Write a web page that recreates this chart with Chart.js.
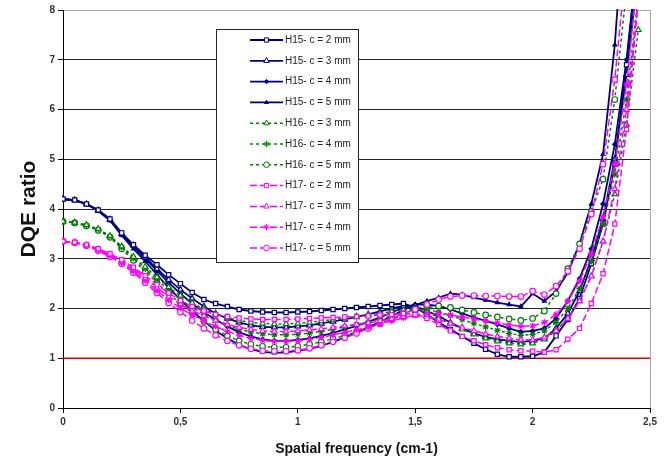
<!DOCTYPE html>
<html>
<head>
<meta charset="utf-8">
<script src="https://cdn.jsdelivr.net/npm/chart.js"></script>
<style>
  html, body { margin: 0; padding: 0; background: #fff; }
  #wrap { width: 664px; height: 464px; }
</style>
</head>
<body>
<div id="wrap"><canvas id="chart" width="664" height="464"></canvas></div>
<script>
// spatial frequency samples (cm-1)
const freq = [0, 0.05, 0.1, 0.15, 0.2, 0.25, 0.3, 0.35, 0.4, 0.45,
  0.5, 0.55, 0.6, 0.65, 0.7, 0.75, 0.8, 0.85, 0.9, 0.95,
  1, 1.05, 1.1, 1.15, 1.2, 1.25, 1.3, 1.35, 1.4, 1.45,
  1.5, 1.55, 1.6, 1.65, 1.7, 1.75, 1.8, 1.85, 1.9, 1.95,
  2, 2.05, 2.1, 2.15, 2.2, 2.25, 2.3, 2.35, 2.4, 2.45];

const xTicks = [0, 0.5, 1, 1.5, 2, 2.5];
const xTickLabels = ['0', '0,5', '1', '1,5', '2', '2,5'];

// DQE ratio per series
const h15c2 = [4.2, 4.18, 4.1, 3.98, 3.8, 3.52, 3.28, 3.07, 2.88, 2.68,
  2.5, 2.32, 2.18, 2.1, 2.04, 1.98, 1.95, 1.93, 1.92, 1.92,
  1.93, 1.94, 1.96, 1.98, 2.0, 2.02, 2.04, 2.06, 2.08, 2.1,
  2.02, 1.88, 1.72, 1.58, 1.44, 1.3, 1.18, 1.08, 1.03, 1.03,
  1.04, 1.12, 1.45, 1.78, 2.2, 2.9, 3.7, 4.9, 6.9, 9.2];
const h15c3 = [4.2, 4.18, 4.1, 3.97, 3.79, 3.5, 3.27, 3.03, 2.8, 2.58,
  2.38, 2.2, 2.04, 1.9, 1.8, 1.72, 1.66, 1.63, 1.62, 1.62,
  1.64, 1.66, 1.7, 1.74, 1.78, 1.83, 1.88, 1.94, 2.0, 2.05,
  2.05, 1.95, 1.85, 1.72, 1.6, 1.5, 1.43, 1.38, 1.35, 1.33,
  1.35, 1.4, 1.6, 1.9, 2.35, 3.0, 3.8, 5.0, 6.7, 8.8];
const h15c4 = [4.2, 4.18, 4.1, 3.97, 3.78, 3.49, 3.25, 3.0, 2.76, 2.52,
  2.3, 2.1, 1.92, 1.78, 1.64, 1.52, 1.44, 1.38, 1.35, 1.35,
  1.37, 1.4, 1.45, 1.51, 1.58, 1.65, 1.73, 1.82, 1.92, 2.02,
  2.08, 2.08, 2.05, 1.98, 1.9, 1.82, 1.75, 1.68, 1.6, 1.53,
  1.55, 1.6, 1.8, 2.15, 2.6, 3.2, 4.1, 5.3, 7.0, 9.2];
const h15c5 = [4.2, 4.18, 4.1, 3.96, 3.77, 3.47, 3.2, 2.95, 2.68, 2.42,
  2.18, 1.95, 1.75, 1.55, 1.4, 1.27, 1.18, 1.13, 1.11, 1.12,
  1.15, 1.19, 1.25, 1.33, 1.42, 1.52, 1.62, 1.73, 1.85, 1.97,
  2.07, 2.15, 2.22, 2.3, 2.28, 2.22, 2.17, 2.12, 2.08, 2.04,
  2.3, 2.15, 2.35, 2.72, 3.3, 4.1, 5.1, 7.3, 10.5, 14];
const h16c3 = [3.75, 3.73, 3.68, 3.6, 3.46, 3.25, 3.04, 2.84, 2.63, 2.43,
  2.26, 2.11, 1.99, 1.89, 1.82, 1.76, 1.72, 1.7, 1.69, 1.69,
  1.7, 1.72, 1.75, 1.78, 1.81, 1.84, 1.87, 1.9, 1.94, 1.97,
  1.98, 1.92, 1.82, 1.7, 1.58, 1.48, 1.4, 1.34, 1.3, 1.28,
  1.3, 1.38, 1.55, 1.8, 2.15, 2.65, 3.35, 4.3, 5.7, 7.6];
const h16c4 = [3.75, 3.73, 3.67, 3.59, 3.45, 3.23, 3.01, 2.8, 2.58, 2.37,
  2.18, 2.02, 1.88, 1.76, 1.66, 1.58, 1.53, 1.49, 1.47, 1.47,
  1.48, 1.5, 1.54, 1.58, 1.63, 1.68, 1.73, 1.79, 1.85, 1.92,
  1.98, 1.98, 1.93, 1.86, 1.78, 1.7, 1.63, 1.56, 1.5, 1.46,
  1.48, 1.55, 1.72, 2.0, 2.4, 2.95, 3.7, 4.7, 6.2, 8.3];
const h16c5 = [3.75, 3.72, 3.66, 3.57, 3.43, 3.2, 2.97, 2.75, 2.52, 2.3,
  2.1, 1.91, 1.74, 1.58, 1.45, 1.35, 1.28, 1.24, 1.22, 1.22,
  1.24, 1.28, 1.33, 1.39, 1.46, 1.53, 1.61, 1.69, 1.78, 1.87,
  1.95, 2.02, 2.05, 2.02, 1.97, 1.92, 1.87, 1.83, 1.79, 1.76,
  1.8, 1.95, 2.3, 2.8, 3.3, 3.95, 4.6, 6.2, 8.4, 11];
const h17c2 = [3.35, 3.33, 3.28, 3.2, 3.1, 2.98, 2.83, 2.66, 2.48, 2.31,
  2.16, 2.04, 1.95, 1.88, 1.84, 1.81, 1.79, 1.78, 1.78, 1.78,
  1.79, 1.8, 1.81, 1.82, 1.83, 1.84, 1.85, 1.87, 1.88, 1.9,
  1.88, 1.8, 1.68, 1.55, 1.44, 1.35, 1.27, 1.21, 1.17, 1.15,
  1.14, 1.12, 1.17, 1.38, 1.6, 2.1, 2.7, 3.7, 5.6, 8.2];
const h17c3 = [3.35, 3.33, 3.27, 3.19, 3.08, 2.95, 2.79, 2.61, 2.42, 2.24,
  2.09, 1.96, 1.85, 1.76, 1.68, 1.62, 1.58, 1.55, 1.54, 1.54,
  1.55, 1.57, 1.59, 1.62, 1.65, 1.68, 1.71, 1.75, 1.79, 1.83,
  1.86, 1.84, 1.78, 1.7, 1.62, 1.55, 1.49, 1.44, 1.4, 1.37,
  1.37, 1.42, 1.55, 1.8, 2.15, 2.65, 3.35, 4.4, 6.0, 8.2];
const h17c4 = [3.35, 3.33, 3.27, 3.18, 3.06, 2.92, 2.75, 2.56, 2.36, 2.17,
  2.01, 1.87, 1.75, 1.64, 1.54, 1.46, 1.4, 1.36, 1.34, 1.34,
  1.35, 1.38, 1.42, 1.47, 1.52, 1.57, 1.63, 1.69, 1.75, 1.81,
  1.87, 1.9, 1.9, 1.87, 1.83, 1.79, 1.75, 1.71, 1.67, 1.64,
  1.65, 1.72, 1.88, 2.15, 2.55, 3.1, 3.85, 4.9, 6.5, 8.8];
const h17c5 = [3.35, 3.32, 3.26, 3.16, 3.04, 2.9, 2.72, 2.52, 2.31, 2.11,
  1.93, 1.76, 1.6, 1.46, 1.35, 1.26, 1.19, 1.15, 1.14, 1.14,
  1.16, 1.2, 1.26, 1.33, 1.41, 1.5, 1.6, 1.7, 1.8, 1.9,
  1.98, 2.08, 2.18, 2.24, 2.26, 2.26, 2.25, 2.25, 2.24, 2.24,
  2.35, 2.28, 2.45, 2.75, 3.2, 3.9, 4.9, 6.6, 9.0, 12];

// ratio = 1 reference
const refX = [0, 2.5];
const refY = [1, 1];

const NAVY = '#000080';
const GREEN = '#008000';
const PINK = '#ff00ff';
const FONT = '"Liberation Sans", Arial, sans-serif';
const NARROW = '"Liberation Sans Narrow", "Liberation Sans", Arial, sans-serif';

function series(label, ys, color, width, dash, style, filled, radius, order) {
  return {
    label: label,
    data: freq.map((f, i) => ({ x: f, y: ys[i] })),
    borderColor: color,
    borderWidth: width,
    borderDash: dash,
    pointStyle: style,
    pointRadius: radius,
    pointBorderWidth: 1.2,
    pointBorderColor: color,
    pointBackgroundColor: filled ? color : '#fff',
    tension: 0,
    order: order,
    clip: 1
  };
}

const datasets = [
  series('H15- c = 2 mm', h15c2, NAVY, 1.8, [], 'rect', false, 3, 3),
  series('H15- c = 3 mm', h15c3, NAVY, 1.8, [], 'triangle', false, 3.2, 3),
  series('H15- c = 4 mm', h15c4, NAVY, 1.8, [], 'rectRot', true, 2.2, 3),
  series('H15- c = 5 mm', h15c5, NAVY, 1.8, [], 'triangle', true, 2.2, 3),
  series('H16- c = 3 mm', h16c3, GREEN, 1.5, [3, 3], 'triangle', false, 3.2, 2),
  series('H16- c = 4 mm', h16c4, GREEN, 1.5, [3, 3], 'star', false, 3.2, 2),
  series('H16- c = 5 mm', h16c5, GREEN, 1.5, [3, 3], 'circle', false, 2.8, 2),
  series('H17- c = 2 mm', h17c2, PINK, 1.5, [7, 3], 'rect', false, 3, 1),
  series('H17- c = 3 mm', h17c3, PINK, 1.5, [7, 3], 'triangle', false, 3.2, 1),
  series('H17- c = 4 mm', h17c4, PINK, 1.5, [7, 3], 'star', false, 3.2, 1),
  series('H17- c = 5 mm', h17c5, PINK, 1.5, [7, 3], 'circle', false, 2.8, 1),
  {
    label: 'ref',
    noLegend: true,
    data: refX.map((x, i) => ({ x: x, y: refY[i] })),
    borderColor: '#e00000',
    borderWidth: 1.5,
    pointRadius: 0,
    order: 4
  }
];

// Excel-like boxed legend sitting inside the plot
const boxLegend = {
  id: 'boxLegend',
  afterDatasetsDraw(chart) {
    const ctx = chart.ctx;
    const items = chart.data.datasets.filter(d => !d.noLegend);
    const x0 = 216, y0 = 29, w = 142, h = 233;
    ctx.save();
    ctx.fillStyle = '#fff';
    ctx.fillRect(x0, y0, w, h);
    ctx.strokeStyle = '#222';
    ctx.lineWidth = 1;
    ctx.strokeRect(x0 + 0.5, y0 + 0.5, w, h);
    items.forEach((d, i) => {
      const y = 40 + i * 20.8;
      ctx.strokeStyle = d.borderColor;
      ctx.lineWidth = d.borderWidth;
      ctx.setLineDash(d.borderDash);
      ctx.beginPath();
      ctx.moveTo(250, y);
      ctx.lineTo(283, y);
      ctx.stroke();
      ctx.setLineDash([]);
      ctx.fillStyle = d.pointBackgroundColor;
      ctx.strokeStyle = d.pointBorderColor;
      ctx.lineWidth = 1;
      Chart.helpers.drawPoint(ctx, {
        pointStyle: d.pointStyle, radius: d.pointRadius, borderWidth: 1, rotation: 0
      }, 266.5, y);
      ctx.fillStyle = '#222';
      ctx.font = '10px ' + FONT;
      ctx.textBaseline = 'middle';
      ctx.fillText(d.label, 285, y);
    });
    ctx.restore();
  }
};

new Chart(document.getElementById('chart'), {
  type: 'line',
  data: { datasets: datasets },
  plugins: [boxLegend],
  options: {
    responsive: false,
    animation: false,
    devicePixelRatio: 1,
    layout: { padding: { top: 10, right: 14, left: 0, bottom: 0 } },
    plugins: { legend: { display: false }, tooltip: { enabled: false } },
    scales: {
      x: {
        type: 'linear',
        min: 0,
        max: 2.5,
        afterFit(s) { s.height = 56; },
        afterBuildTicks(s) { s.ticks = xTicks.map(v => ({ value: v })); },
        ticks: {
          callback: (v) => xTickLabels[xTicks.indexOf(v)],
          color: '#333',
          padding: 3,
          maxRotation: 0,
          font: { family: NARROW, size: 10, weight: 'bold' }
        },
        grid: {
          color: c => (c.tick && c.tick.value === 2.5) ? '#aaa' : 'rgba(0,0,0,0)',
          tickColor: '#000',
          tickLength: 5
        },
        border: { color: '#000', width: 1 },
        title: {
          display: true,
          text: 'Spatial frequency (cm-1)',
          color: '#111',
          padding: { top: 0, bottom: 6 },
          font: { family: NARROW, size: 14, weight: 'bold' }
        }
      },
      y: {
        min: 0,
        max: 8,
        afterFit(s) { s.width = 63; },
        ticks: {
          stepSize: 1,
          color: '#333',
          padding: 3,
          font: { family: NARROW, size: 10, weight: 'bold' }
        },
        grid: {
          color: c => {
            const v = c.tick ? c.tick.value : -1;
            if (v === 0) return 'rgba(0,0,0,0)';
            if (v === 8) return '#aaa';
            return '#222';
          },
          tickColor: '#000',
          tickLength: 5
        },
        border: { color: '#000', width: 1 },
        title: {
          display: true,
          text: 'DQE ratio',
          color: '#111',
          padding: { top: 17, bottom: 0 },
          font: { family: FONT, size: 21, weight: 'bold' }
        }
      }
    }
  }
});
</script>
</body>
</html>
